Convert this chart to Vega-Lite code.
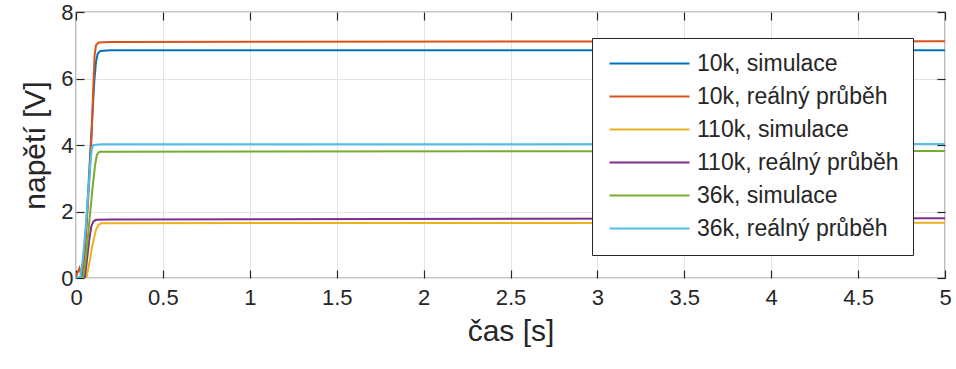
{
  "$schema": "https://vega.github.io/schema/vega-lite/v6.json",
  "autosize": {"type": "none"},
  "width": 869,
  "height": 266,
  "padding": {"left": 76, "top": 12, "right": 11, "bottom": 91},
  "background": "white",
  "data": {"values": [
    {"t": 0, "v": 0, "s": "10k, simulace"},
    {"t": 0.035, "v": 0, "s": "10k, simulace"},
    {"t": 0.05, "v": 0.8, "s": "10k, simulace"},
    {"t": 0.07, "v": 2.6, "s": "10k, simulace"},
    {"t": 0.09, "v": 4.5, "s": "10k, simulace"},
    {"t": 0.105, "v": 5.9, "s": "10k, simulace"},
    {"t": 0.115, "v": 6.5, "s": "10k, simulace"},
    {"t": 0.125, "v": 6.75, "s": "10k, simulace"},
    {"t": 0.14, "v": 6.83, "s": "10k, simulace"},
    {"t": 0.2, "v": 6.85, "s": "10k, simulace"},
    {"t": 5, "v": 6.85, "s": "10k, simulace"},

    {"t": 0, "v": 0.05, "s": "10k, reálný průběh"},
    {"t": 0.02, "v": 0.3, "s": "10k, reálný průběh"},
    {"t": 0.03, "v": 0.1, "s": "10k, reálný průběh"},
    {"t": 0.045, "v": 0.5, "s": "10k, reálný průběh"},
    {"t": 0.06, "v": 1.5, "s": "10k, reálný průběh"},
    {"t": 0.075, "v": 2.8, "s": "10k, reálný průběh"},
    {"t": 0.09, "v": 4.3, "s": "10k, reálný průběh"},
    {"t": 0.1, "v": 5.8, "s": "10k, reálný průběh"},
    {"t": 0.107, "v": 6.7, "s": "10k, reálný průběh"},
    {"t": 0.115, "v": 7.0, "s": "10k, reálný průběh"},
    {"t": 0.13, "v": 7.08, "s": "10k, reálný průběh"},
    {"t": 0.2, "v": 7.1, "s": "10k, reálný průběh"},
    {"t": 5, "v": 7.12, "s": "10k, reálný průběh"},

    {"t": 0, "v": 0, "s": "110k, simulace"},
    {"t": 0.06, "v": 0, "s": "110k, simulace"},
    {"t": 0.075, "v": 0.4, "s": "110k, simulace"},
    {"t": 0.095, "v": 1.0, "s": "110k, simulace"},
    {"t": 0.115, "v": 1.45, "s": "110k, simulace"},
    {"t": 0.13, "v": 1.6, "s": "110k, simulace"},
    {"t": 0.145, "v": 1.65, "s": "110k, simulace"},
    {"t": 5, "v": 1.66, "s": "110k, simulace"},

    {"t": 0, "v": 0, "s": "110k, reálný průběh"},
    {"t": 0.05, "v": 0, "s": "110k, reálný průběh"},
    {"t": 0.06, "v": 0.4, "s": "110k, reálný průběh"},
    {"t": 0.075, "v": 1.1, "s": "110k, reálný průběh"},
    {"t": 0.088, "v": 1.55, "s": "110k, reálný průběh"},
    {"t": 0.1, "v": 1.7, "s": "110k, reálný průběh"},
    {"t": 0.115, "v": 1.75, "s": "110k, reálný průběh"},
    {"t": 0.2, "v": 1.76, "s": "110k, reálný průběh"},
    {"t": 5, "v": 1.8, "s": "110k, reálný průběh"},

    {"t": 0, "v": 0, "s": "36k, simulace"},
    {"t": 0.04, "v": 0, "s": "36k, simulace"},
    {"t": 0.055, "v": 0.5, "s": "36k, simulace"},
    {"t": 0.075, "v": 1.6, "s": "36k, simulace"},
    {"t": 0.095, "v": 2.7, "s": "36k, simulace"},
    {"t": 0.11, "v": 3.4, "s": "36k, simulace"},
    {"t": 0.12, "v": 3.7, "s": "36k, simulace"},
    {"t": 0.135, "v": 3.8, "s": "36k, simulace"},
    {"t": 0.2, "v": 3.8, "s": "36k, simulace"},
    {"t": 5, "v": 3.82, "s": "36k, simulace"},

    {"t": 0, "v": 0, "s": "36k, reálný průběh"},
    {"t": 0.025, "v": 0.05, "s": "36k, reálný průběh"},
    {"t": 0.04, "v": 0.6, "s": "36k, reálný průběh"},
    {"t": 0.06, "v": 1.8, "s": "36k, reálný průběh"},
    {"t": 0.075, "v": 2.9, "s": "36k, reálný průběh"},
    {"t": 0.085, "v": 3.6, "s": "36k, reálný průběh"},
    {"t": 0.092, "v": 3.9, "s": "36k, reálný průběh"},
    {"t": 0.1, "v": 4.0, "s": "36k, reálný průběh"},
    {"t": 0.15, "v": 4.02, "s": "36k, reálný průběh"},
    {"t": 5, "v": 4.03, "s": "36k, reálný průběh"}
  ]},
  "layer": [
    {
      "mark": {"type": "line", "strokeWidth": 2, "clip": true},
      "encoding": {
        "x": {"field": "t", "type": "quantitative", "scale": {"domain": [0, 5], "nice": false, "zero": false},
          "axis": {"title": "čas [s]", "values": [0, 0.5, 1, 1.5, 2, 2.5, 3, 3.5, 4, 4.5, 5], "format": "~g", "orient": "bottom"}},
        "y": {"field": "v", "type": "quantitative", "scale": {"domain": [0, 8], "nice": false},
          "axis": {"title": "napětí [V]", "values": [0, 2, 4, 6, 8], "orient": "left"}},
        "color": {"field": "s", "type": "nominal",
          "scale": {"domain": ["10k, simulace", "10k, reálný průběh", "110k, simulace", "110k, reálný průběh", "36k, simulace", "36k, reálný průběh"],
                    "range": ["#0072BD", "#D95319", "#EDB120", "#7E2F8E", "#77AC30", "#4DBEEE"]},
          "legend": {"title": null, "orient": "none", "legendX": 516, "legendY": 26}},
        "order": {"field": "t", "type": "quantitative"}
      }
    },
    {
      "mark": {"type": "line", "opacity": 0},
      "encoding": {
        "x": {"field": "t", "type": "quantitative", "scale": {"domain": [0, 5], "nice": false, "zero": false},
          "axis": {"title": null, "values": [0, 0.5, 1, 1.5, 2, 2.5, 3, 3.5, 4, 4.5, 5], "labels": false, "grid": false, "orient": "top", "domain": false}},
        "y": {"field": "v", "type": "quantitative", "scale": {"domain": [0, 8], "nice": false},
          "axis": {"title": null, "values": [0, 2, 4, 6, 8], "labels": false, "grid": false, "orient": "right", "domain": false}},
        "detail": {"field": "s"}
      }
    }
  ],
  "resolve": {"axis": {"x": "independent", "y": "independent"}},
  "config": {
    "font": "Liberation Sans",
    "view": {"stroke": "#262626", "strokeWidth": 1.2},
    "axis": {
      "domain": false,
      "grid": true,
      "gridColor": "#e3e3e3",
      "gridWidth": 1,
      "tickColor": "#262626",
      "tickSize": -8,
      "tickWidth": 1.2,
      "labelFont": "Liberation Sans",
      "labelFontSize": 22,
      "labelColor": "#262626",
      "titleFont": "Liberation Sans",
      "titleFontSize": 30,
      "titleFontWeight": "normal",
      "titleColor": "#262626",
      "labelFlush": false,
      "labelOverlap": false
    },
    "axisBottom": {"labelPadding": 17, "titlePadding": 8},
    "axisLeft": {"labelPadding": 11, "titlePadding": 10},
    "legend": {
      "symbolType": "M-5,0H5",
      "symbolSize": 256,
      "symbolOffset": 32,
      "symbolStrokeWidth": 2,
      "labelFont": "Liberation Sans",
      "labelFontSize": 23,
      "labelColor": "#262626",
      "labelOffset": 36,
      "padding": 14,
      "rowPadding": 9,
      "strokeColor": "#262626",
      "fillColor": "white",
      "labelLimit": 400
    }
  }
}
